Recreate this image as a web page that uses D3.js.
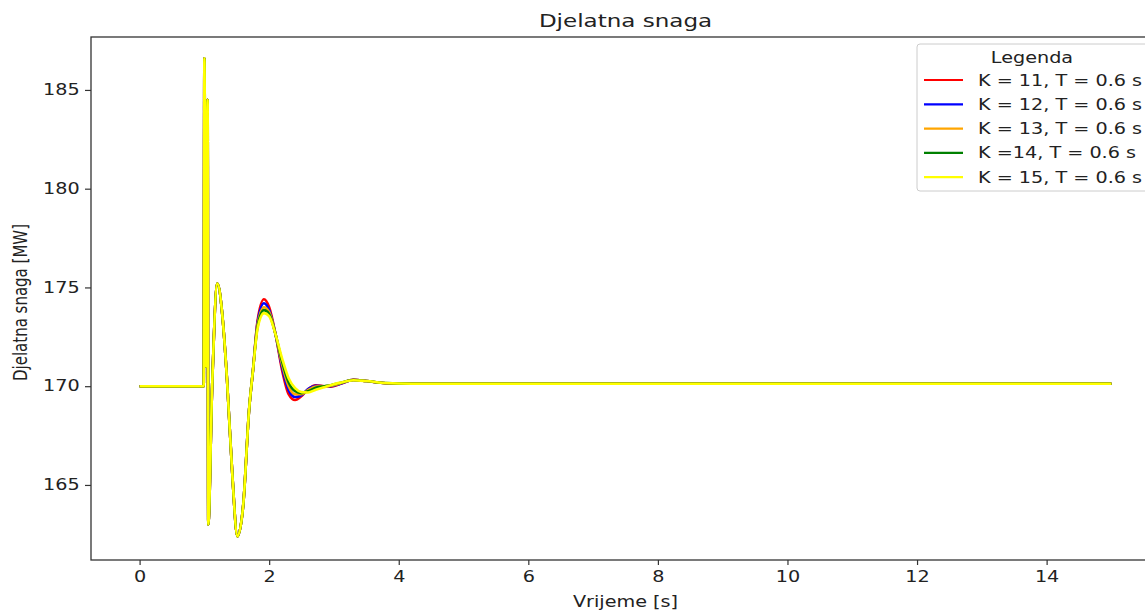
<!DOCTYPE html>
<html>
<head>
<meta charset="utf-8">
<script src="https://cdn.jsdelivr.net/npm/d3@7"></script>
<style>
  body { margin: 0; background: #fff; }
  text { font-family: "DejaVu Sans", sans-serif; fill: #222; }
</style>
</head>
<body>
<script>
//Time samples (s).
const time = [0, 0.99, 1.0, 1.025, 1.05, 1.06, 1.12, 1.2, 1.28, 1.35, 1.43, 1.51, 1.6, 1.69, 1.75,
  1.82, 1.92, 2.0, 2.1, 2.2, 2.3, 2.4, 2.5, 2.6, 2.72, 2.85, 2.95, 3.1, 3.3, 3.5, 3.8, 4.2, 5, 8, 15];

//Shared part of every run (up to 1.75 s).
const common = [170, 170, 186.6, 171.0, 184.5, 163.0, 170.0, 175.2, 173.5, 170.3, 165.6, 162.4, 164.0, 168.8, 170.8];

const k11 = [173.3, 174.4, 174.0, 172.6, 170.8, 169.6, 169.3, 169.5, 169.85, 170.05, 170.0, 169.98, 170.12, 170.32, 170.26, 170.15, 170.12, 170.12, 170.12, 170.12];
const k12 = [173.2, 174.2, 173.85, 172.6, 170.95, 169.8, 169.45, 169.55, 169.85, 170.02, 170.0, 170.0, 170.13, 170.32, 170.26, 170.15, 170.12, 170.12, 170.12, 170.12];
const k13 = [173.1, 174.0, 173.75, 172.6, 171.1, 170.0, 169.6, 169.6, 169.8, 169.98, 170.0, 170.02, 170.15, 170.32, 170.26, 170.15, 170.12, 170.12, 170.12, 170.12];
const k14 = [173.0, 173.85, 173.65, 172.6, 171.25, 170.2, 169.75, 169.65, 169.75, 169.92, 170.0, 170.05, 170.17, 170.31, 170.26, 170.16, 170.12, 170.12, 170.12, 170.12];
const k15 = [172.9, 173.7, 173.55, 172.6, 171.4, 170.4, 169.9, 169.7, 169.68, 169.82, 169.95, 170.05, 170.18, 170.3, 170.26, 170.16, 170.12, 170.12, 170.12, 170.12];

const labels = ["K = 11, T = 0.6 s", "K = 12, T = 0.6 s", "K = 13, T = 0.6 s", "K =14, T = 0.6 s", "K = 15, T = 0.6 s"];
const colors = ["red", "blue", "orange", "green", "yellow"];
const runs = [k11, k12, k13, k14, k15];

const xTicks = [0, 2, 4, 6, 8, 10, 12, 14];
const yTicks = [165, 170, 175, 180, 185];

//Dimensions.
const width = 1145;
const height = 610;
const plotLeft = 91, plotTop = 37, plotRight = 1160, plotBottom = 560;
const sx = 1.28; //picture is stretched horizontally

const x = d3.scaleLinear().domain([-0.75, 15.75]).range([plotLeft, plotRight]);
const y = d3.scaleLinear().domain([161.2, 187.68]).range([plotBottom, plotTop]);

const svg = d3.select("body")
  .append("svg")
  .attr("width", width)
  .attr("height", height);

svg.append("rect").attr("width", width).attr("height", height).attr("fill", "#fff");

svg.append("defs").append("clipPath").attr("id", "plot")
  .append("rect")
  .attr("x", plotLeft).attr("y", plotTop)
  .attr("width", plotRight - plotLeft).attr("height", plotBottom - plotTop);

//Lines.
const line = d3.line()
  .x((d) => x(d[0]))
  .y((d) => y(d[1]))
  .curve(d3.curveMonotoneX);

runs.forEach((run, i) => {
  const values = common.concat(run);
  svg.append("path")
    .datum(time.map((t, j) => [t, values[j]]))
    .attr("clip-path", "url(#plot)")
    .attr("fill", "none")
    .attr("stroke", colors[i])
    .attr("stroke-width", 2.6)
    .attr("stroke-linejoin", "round")
    .attr("d", line);
});

//Axes.
const xAxis = svg.append("g")
  .attr("transform", `translate(0,${plotBottom})`)
  .call(d3.axisBottom(x).tickValues(xTicks).tickSize(5).tickPadding(6).tickSizeOuter(0));

const yAxis = svg.append("g")
  .attr("transform", `translate(${plotLeft},0)`)
  .call(d3.axisLeft(y).tickValues(yTicks).tickSize(6).tickPadding(4).tickSizeOuter(0));

[xAxis, yAxis].forEach((g) => {
  g.select(".domain").remove();
  g.selectAll("line").attr("stroke", "#333").attr("stroke-width", 1.2);
  g.selectAll("text")
    .style("font-family", "DejaVu Sans")
    .style("font-size", "15px")
    .attr("fill", "#222");
});
xAxis.selectAll("text").attr("transform", `scale(${sx},1)`);
yAxis.selectAll("text").attr("transform", `scale(${sx},1)`).attr("x", -10 / sx - 1);

//Frame.
svg.append("rect")
  .attr("x", plotLeft).attr("y", plotTop)
  .attr("width", plotRight - plotLeft).attr("height", plotBottom - plotTop)
  .attr("fill", "none")
  .attr("stroke", "#333")
  .attr("stroke-width", 1.3);

//Title and labels.
svg.append("text")
  .attr("transform", `translate(${(plotLeft + plotRight) / 2},27) scale(${sx},1)`)
  .attr("text-anchor", "middle")
  .style("font-size", "18px")
  .text("Djelatna snaga");

svg.append("text")
  .attr("transform", `translate(${(plotLeft + plotRight) / 2},607) scale(${sx},1)`)
  .attr("text-anchor", "middle")
  .style("font-size", "15px")
  .text("Vrijeme [s]");

svg.append("text")
  .attr("transform", `translate(27,${(plotTop + plotBottom) / 2 + 4}) rotate(-90) scale(1,${sx})`)
  .attr("text-anchor", "middle")
  .style("font-size", "15px")
  .text("Djelatna snaga [MW]");

//Legend.
const legend = svg.append("g");
legend.append("rect")
  .attr("x", 917).attr("y", 44)
  .attr("width", 240).attr("height", 147)
  .attr("rx", 3)
  .attr("fill", "#fff")
  .attr("fill-opacity", 0.8)
  .attr("stroke", "#ccc");

legend.append("text")
  .attr("transform", `translate(1032,63) scale(${sx},1)`)
  .attr("text-anchor", "middle")
  .style("font-size", "15px")
  .text("Legenda");

labels.forEach((name, i) => {
  const ly = 80 + i * 24.3;
  legend.append("line")
    .attr("x1", 924).attr("x2", 963)
    .attr("y1", ly).attr("y2", ly)
    .attr("stroke", colors[i])
    .attr("stroke-width", 2.2);
  legend.append("text")
    .attr("transform", `translate(978,${ly + 5.5}) scale(${sx},1)`)
    .style("font-size", "15px")
    .text(name);
});
</script>
</body>
</html>
